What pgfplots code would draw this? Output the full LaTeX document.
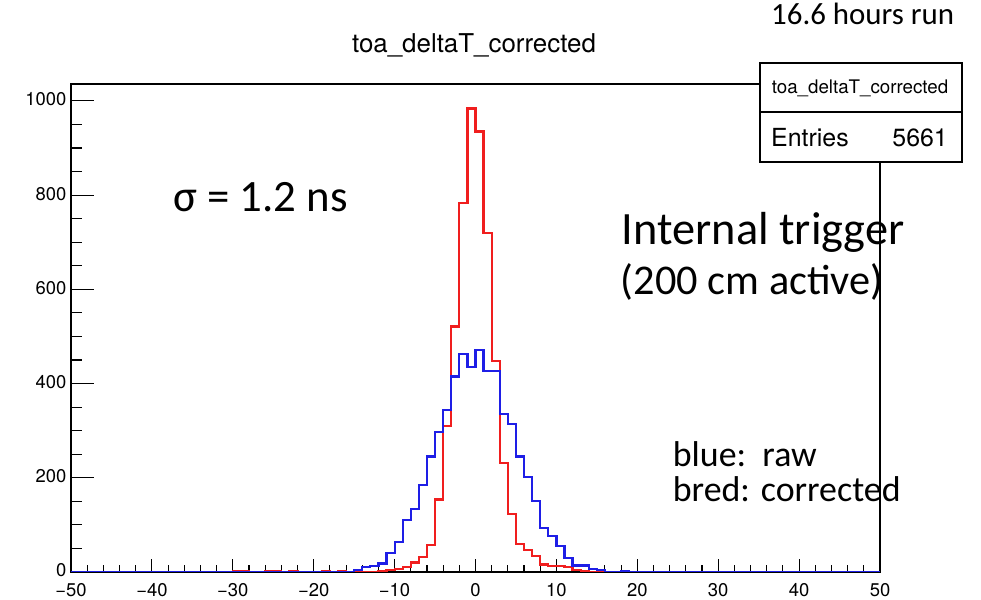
\documentclass[border=0pt]{standalone}
\usepackage{pgfplots}
\pgfplotsset{compat=1.18}
\usepackage{fontspec}
\setmainfont{TeX Gyre Heros}
\newfontfamily\calibri{Carlito}
\definecolor{rootred}{RGB}{240,30,30}
\definecolor{rootblue}{RGB}{30,30,230}
\begin{document}
\begin{tikzpicture}[x=1bp,y=1bp]
\useasboundingbox (0,0) rectangle (981,600);
% y axis ticks and labels
\begin{axis}[
  at={(71bp,28bp)}, anchor=south west,
  scale only axis, width=809bp, height=488bp,
  xmin=-50, xmax=50, ymin=0, ymax=1036,
  xtick=\empty,
  ytick={0,200,400,600,800,1000},
  yticklabels={0,200,400,600,800,1000},
  minor y tick num=3,
  major tick length=23bp, minor tick length=11bp,
  tick pos=left, tick align=inside,
  tick style={black, line width=1.1bp},
  axis line style={black, line width=1.3bp},
  yticklabel style={font=\fontsize{18.5}{18.5}\selectfont, xshift=-1bp, yshift=1.5bp},
]
\end{axis}
% histograms and x ticks
\begin{axis}[
  at={(71bp,28bp)}, anchor=south west,
  scale only axis, width=809bp, height=488bp,
  xmin=-50, xmax=50, ymin=0, ymax=1036,
  ytick=\empty,
  xtick={-50,-40,-30,-20,-10,0,10,20,30,40,50},
  xticklabels={−50,−40,−30,−20,−10,0,10,20,30,40,50},
  minor x tick num=4,
  major tick length=13bp, minor tick length=6.5bp,
  tick pos=left, tick align=inside,
  tick style={black, line width=1.1bp},
  axis line style={black, line width=1.3bp},
  xticklabel style={font=\fontsize{18.5}{18.5}\selectfont, yshift=-7.5bp},
]
\addplot[const plot, rootred, line width=2.2bp] coordinates {
(-50,0)
(-30,1) (-29,1) (-28,0)
(-26,1) (-25,1) (-24,0)
(-23,1) (-22,0)
(-19,1) (-18,0)
(-17,1) (-16,0)
(-12,2) (-11,4) (-10,7) (-9,10) (-8,20) (-7,31) (-6,57) (-5,154) (-4,310) (-3,521) (-2,784)
(-1,984) (0,935) (1,719) (2,448) (3,231) (4,123) (5,60) (6,47) (7,34) (8,16) (9,12) (10,13) (11,11) (12,5) (13,1) (14,0) (15,2) (16,0)
(50,0)
};
\addplot[const plot, rootblue, line width=2.2bp] coordinates {
(-50,0)
(-15,5) (-14,10) (-13,12) (-12,18) (-11,41) (-10,64) (-9,110) (-8,134) (-7,185) (-6,245) (-5,298) (-4,344) (-3,415) (-2,463)
(-1,436) (0,471) (1,426) (2,426) (3,335) (4,315) (5,245) (6,202) (7,151) (8,93) (9,76) (10,55) (11,30) (12,14) (13,14) (14,7) (15,4) (16,0)
(18,2) (19,0)
(50,0)
};
\end{axis}
% title
\node[anchor=base, font=\fontsize{26}{26}\selectfont] at (474,547) {toa\_deltaT\_corrected};
% stats box
\draw[fill=white, line width=1.3bp] (760,537) rectangle (962,438);
\draw[line width=1.3bp] (760,488) -- (962,488);
\node[anchor=base, font=\fontsize{18.8}{18.8}\selectfont] at (860,506.7) {toa\_deltaT\_corrected};
\node[anchor=base west, inner sep=0pt, font=\fontsize{25}{25}\selectfont] at (771,453.5) {Entries};
\node[anchor=base east, inner sep=0pt, font=\fontsize{25}{25}\selectfont] at (948,453.5) {5661};
% annotations
\node[anchor=base west, inner sep=0pt, font=\calibri\fontsize{31}{31}\selectfont] at (771,575) {16.6 hours run};
\node[anchor=base west, inner sep=0pt, font=\calibri\fontsize{45}{45}\selectfont] at (173,388) {σ = 1.2 ns};
\node[anchor=base west, inner sep=0pt, font=\calibri\fontsize{46.5}{46.5}\selectfont] at (621.7,355) {Internal trigger};
\node[anchor=base west, inner sep=0pt, font=\calibri\fontsize{42.5}{42.5}\selectfont] at (620.7,305) {(200 cm active)};
\node[anchor=base west, inner sep=0pt, font=\calibri\fontsize{36}{36}\selectfont] at (672.7,133.3) {blue:\ \ raw};
\node[anchor=base west, inner sep=0pt, font=\calibri\fontsize{36}{36}\selectfont] at (672.7,98.3) {bred: corrected};
\end{tikzpicture}
\end{document}
